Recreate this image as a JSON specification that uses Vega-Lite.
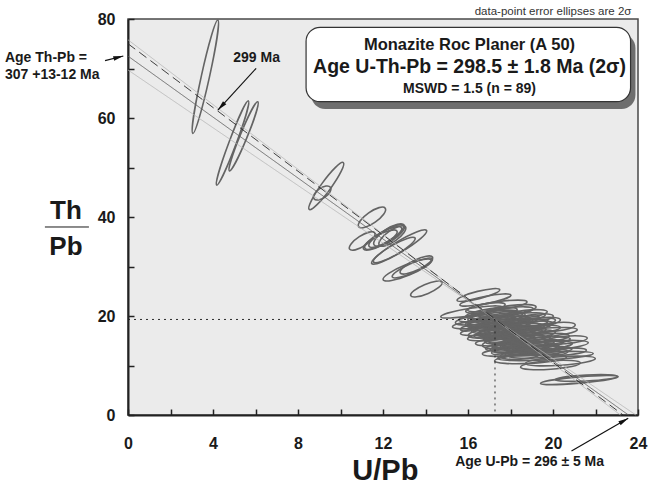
{
  "$schema": "https://vega.github.io/schema/vega-lite/v6.json",
  "width": 510,
  "height": 396,
  "autosize": {"type": "none"},
  "padding": {"left": 128, "top": 19, "right": 13, "bottom": 74},
  "background": "white",
  "config": {
    "font": "Liberation Sans",
    "view": {"fill": "#ebebeb", "stroke": "#4a4a4a", "strokeWidth": 1.5},
    "axis": {
      "grid": false,
      "domainColor": "#222222",
      "domainWidth": 2,
      "tickColor": "#222222",
      "tickWidth": 1.5,
      "tickSize": -6,
      "labelFont": "Liberation Sans",
      "labelFontSize": 16,
      "labelFontWeight": "bold",
      "labelColor": "#1a1a1a",
      "labelFlush": false,
      "labelOverlap": false
    }
  },
  "datasets": {
    "ellipses": [
      {"u": 3.64, "th": 68.34, "err": 58, "tilt": -77.6, "ecc": "e07"},
      {"u": 4.92, "th": 54.95, "err": 45, "tilt": -69.4, "ecc": "e08"},
      {"u": 5.44, "th": 56.30, "err": 37.4, "tilt": -67.7, "ecc": "e09"},
      {"u": 9.33, "th": 46.26, "err": 29, "tilt": -54, "ecc": "e17"},
      {"u": 9.14, "th": 44.85, "err": 10, "tilt": -35, "ecc": "e50"},
      {"u": 11.48, "th": 39.90, "err": 16.2, "tilt": -35, "ecc": "e35"},
      {"u": 12.01, "th": 35.76, "err": 21, "tilt": -29, "ecc": "e28"},
      {"u": 12.15, "th": 36.16, "err": 20, "tilt": -31, "ecc": "e28"},
      {"u": 12.29, "th": 36.36, "err": 18, "tilt": -33, "ecc": "e35"},
      {"u": 11.87, "th": 35.35, "err": 19, "tilt": -28, "ecc": "e28"},
      {"u": 12.44, "th": 36.16, "err": 16, "tilt": -35, "ecc": "e35"},
      {"u": 11.02, "th": 35.15, "err": 15, "tilt": -33, "ecc": "e35"},
      {"u": 12.76, "th": 33.94, "err": 32, "tilt": -31, "ecc": "e17"},
      {"u": 12.53, "th": 33.33, "err": 24, "tilt": -30, "ecc": "e21"},
      {"u": 13.14, "th": 29.29, "err": 26, "tilt": -22, "ecc": "e21"},
      {"u": 13.57, "th": 30.30, "err": 18, "tilt": -26, "ecc": "e28"},
      {"u": 13.38, "th": 29.70, "err": 22, "tilt": -24, "ecc": "e21"},
      {"u": 14.04, "th": 25.45, "err": 17, "tilt": -23, "ecc": "e28"},
      {"u": 16.49, "th": 24.24, "err": 22, "tilt": -14, "ecc": "e17"},
      {"u": 16.82, "th": 23.23, "err": 26, "tilt": -11, "ecc": "e14"},
      {"u": 16.16, "th": 20.81, "err": 31, "tilt": -9, "ecc": "e12"},
      {"u": 17.38, "th": 22.02, "err": 30, "tilt": -8, "ecc": "e14"},
      {"u": 17.76, "th": 20.81, "err": 28, "tilt": -7, "ecc": "e14"},
      {"u": 16.96, "th": 20.00, "err": 30, "tilt": -8, "ecc": "e14"},
      {"u": 18.23, "th": 19.60, "err": 30, "tilt": -6, "ecc": "e14"},
      {"u": 17.43, "th": 18.79, "err": 32, "tilt": -7, "ecc": "e14"},
      {"u": 16.58, "th": 18.38, "err": 28, "tilt": -6, "ecc": "e14"},
      {"u": 18.46, "th": 18.38, "err": 28, "tilt": -6, "ecc": "e14"},
      {"u": 17.76, "th": 17.58, "err": 34, "tilt": -6, "ecc": "e12"},
      {"u": 17.05, "th": 17.17, "err": 30, "tilt": -7, "ecc": "e14"},
      {"u": 18.94, "th": 17.17, "err": 30, "tilt": -5, "ecc": "e14"},
      {"u": 18.09, "th": 16.36, "err": 30, "tilt": -6, "ecc": "e14"},
      {"u": 17.29, "th": 15.96, "err": 28, "tilt": -6, "ecc": "e14"},
      {"u": 19.41, "th": 16.57, "err": 37, "tilt": -5, "ecc": "e12"},
      {"u": 18.46, "th": 15.56, "err": 32, "tilt": -6, "ecc": "e14"},
      {"u": 17.76, "th": 14.95, "err": 30, "tilt": -5, "ecc": "e14"},
      {"u": 19.17, "th": 14.75, "err": 35, "tilt": -5, "ecc": "e12"},
      {"u": 18.23, "th": 13.94, "err": 30, "tilt": -5, "ecc": "e14"},
      {"u": 19.88, "th": 13.94, "err": 38, "tilt": -5, "ecc": "e12"},
      {"u": 18.70, "th": 13.13, "err": 34, "tilt": -5, "ecc": "e12"},
      {"u": 17.99, "th": 12.73, "err": 28, "tilt": -4, "ecc": "e14"},
      {"u": 19.64, "th": 11.92, "err": 48, "tilt": -3, "ecc": "e08"},
      {"u": 18.94, "th": 11.31, "err": 36, "tilt": -3, "ecc": "e12"},
      {"u": 20.35, "th": 10.91, "err": 35, "tilt": -4, "ecc": "e12"},
      {"u": 19.88, "th": 10.10, "err": 30, "tilt": -4, "ecc": "e14"},
      {"u": 17.52, "th": 19.60, "err": 25, "tilt": -8, "ecc": "e17"},
      {"u": 17.99, "th": 21.21, "err": 26, "tilt": -7, "ecc": "e17"},
      {"u": 16.82, "th": 21.62, "err": 20, "tilt": -10, "ecc": "e21"},
      {"u": 18.70, "th": 20.40, "err": 22, "tilt": -6, "ecc": "e17"},
      {"u": 16.34, "th": 19.19, "err": 20, "tilt": -8, "ecc": "e21"},
      {"u": 17.29, "th": 17.98, "err": 22, "tilt": -6, "ecc": "e17"},
      {"u": 19.41, "th": 18.79, "err": 20, "tilt": -6, "ecc": "e21"},
      {"u": 18.84, "th": 17.98, "err": 25, "tilt": -6, "ecc": "e17"},
      {"u": 17.62, "th": 16.57, "err": 20, "tilt": -6, "ecc": "e21"},
      {"u": 18.37, "th": 17.17, "err": 22, "tilt": -6, "ecc": "e17"},
      {"u": 19.64, "th": 15.56, "err": 24, "tilt": -5, "ecc": "e17"},
      {"u": 18.84, "th": 14.34, "err": 26, "tilt": -5, "ecc": "e14"},
      {"u": 17.99, "th": 13.54, "err": 20, "tilt": -5, "ecc": "e21"},
      {"u": 19.41, "th": 13.13, "err": 22, "tilt": -5, "ecc": "e17"},
      {"u": 20.35, "th": 12.73, "err": 26, "tilt": -4, "ecc": "e14"},
      {"u": 17.43, "th": 14.34, "err": 16, "tilt": -5, "ecc": "e28"},
      {"u": 16.67, "th": 16.36, "err": 14, "tilt": -6, "ecc": "e28"},
      {"u": 16.11, "th": 17.58, "err": 10, "tilt": -8, "ecc": "e28"},
      {"u": 18.46, "th": 12.12, "err": 20, "tilt": -4, "ecc": "e21"},
      {"u": 20.58, "th": 15.15, "err": 22, "tilt": -5, "ecc": "e17"},
      {"u": 20.11, "th": 17.78, "err": 20, "tilt": -6, "ecc": "e21"},
      {"u": 19.17, "th": 19.60, "err": 18, "tilt": -6, "ecc": "e21"},
      {"u": 17.10, "th": 19.20, "err": 24, "tilt": -7, "ecc": "e17"},
      {"u": 17.85, "th": 18.40, "err": 26, "tilt": -6, "ecc": "e17"},
      {"u": 18.55, "th": 16.80, "err": 24, "tilt": -6, "ecc": "e17"},
      {"u": 17.95, "th": 15.70, "err": 26, "tilt": -5, "ecc": "e17"},
      {"u": 18.75, "th": 15.10, "err": 24, "tilt": -5, "ecc": "e17"},
      {"u": 18.15, "th": 14.40, "err": 22, "tilt": -5, "ecc": "e17"},
      {"u": 19.05, "th": 13.60, "err": 26, "tilt": -5, "ecc": "e17"},
      {"u": 17.60, "th": 17.00, "err": 24, "tilt": -6, "ecc": "e17"},
      {"u": 16.90, "th": 18.80, "err": 22, "tilt": -7, "ecc": "e17"},
      {"u": 19.30, "th": 12.40, "err": 30, "tilt": -4, "ecc": "e14"},
      {"u": 17.30, "th": 19.90, "err": 28, "tilt": -7, "ecc": "e14"},
      {"u": 18.00, "th": 19.00, "err": 30, "tilt": -6, "ecc": "e14"},
      {"u": 17.60, "th": 18.10, "err": 30, "tilt": -6, "ecc": "e14"},
      {"u": 18.30, "th": 17.50, "err": 28, "tilt": -6, "ecc": "e14"},
      {"u": 17.90, "th": 16.90, "err": 32, "tilt": -6, "ecc": "e14"},
      {"u": 18.70, "th": 16.20, "err": 30, "tilt": -5, "ecc": "e14"},
      {"u": 18.20, "th": 15.30, "err": 30, "tilt": -5, "ecc": "e14"},
      {"u": 19.00, "th": 14.20, "err": 32, "tilt": -5, "ecc": "e14"},
      {"u": 18.50, "th": 13.40, "err": 28, "tilt": -5, "ecc": "e14"},
      {"u": 19.30, "th": 12.90, "err": 34, "tilt": -4, "ecc": "e12"},
      {"u": 17.10, "th": 20.60, "err": 26, "tilt": -8, "ecc": "e17"},
      {"u": 18.90, "th": 18.60, "err": 26, "tilt": -6, "ecc": "e17"},
      {"u": 17.40, "th": 16.50, "err": 24, "tilt": -6, "ecc": "e17"},
      {"u": 19.60, "th": 14.00, "err": 28, "tilt": -5, "ecc": "e14"},
      {"u": 21.24, "th": 7.07, "err": 39, "tilt": -5, "ecc": "e08"},
      {"u": 21.57, "th": 7.47, "err": 31, "tilt": -3, "ecc": "e09"}
    ],
    "lines": [
      {"kind": "env", "x1": 0, "y1": 75.8, "x2": 23.17, "y2": 0},
      {"kind": "env", "x1": 0, "y1": 69.7, "x2": 23.9, "y2": 0},
      {"kind": "reg", "x1": 0, "y1": 72.5, "x2": 23.55, "y2": 0},
      {"kind": "iso", "x1": 0, "y1": 75.0, "x2": 23.3, "y2": 0},
      {"kind": "guide", "x1": 0, "y1": 19.3, "x2": 17.27, "y2": 19.3},
      {"kind": "guide", "x1": 17.27, "y1": 19.3, "x2": 17.27, "y2": 0},
      {"kind": "frac", "x1": -3.91, "y1": 37.98, "x2": -1.84, "y2": 37.98}
    ],
    "panel": [
      {"part": "shadow", "x1": 8.62, "x2": 23.88, "y1": 76.97, "y2": 61.82},
      {"part": "box", "x1": 8.38, "x2": 23.65, "y1": 78.32, "y2": 63.29}
    ],
    "arrows": [
      {"x1": -1.08, "y1": 71.58, "x2": -0.22, "y2": 72.53, "dir": -14.4},
      {"x1": 6.03, "y1": 70.04, "x2": 4.23, "y2": 61.6, "dir": 132.6},
      {"x1": 20.87, "y1": -7.27, "x2": 23.54, "y2": -0.67, "dir": -30}
    ],
    "labels": [
      {"role": "thpb", "x": -5.79, "y": 72.12, "txt": "Age Th-Pb ="},
      {"role": "thpb", "x": -5.79, "y": 68.69, "txt": "307 +13-12 Ma"},
      {"role": "annot", "x": 6.05, "y": 72.2, "txt": "299 Ma"},
      {"role": "title", "x": 16.07, "y": 74.75, "txt": "Monazite Roc Planer (A 50)"},
      {"role": "age", "x": 16.07, "y": 70.3, "txt": "Age U-Th-Pb = 298.5 ± 1.8 Ma (2σ)"},
      {"role": "annot", "x": 16.07, "y": 65.86, "txt": "MSWD = 1.5 (n = 89)"},
      {"role": "annot", "x": 18.9, "y": -9.43, "txt": "Age U-Pb = 296 ± 5 Ma"},
      {"role": "frac", "x": -2.92, "y": 41.21, "txt": "Th"},
      {"role": "frac", "x": -2.92, "y": 33.94, "txt": "Pb"},
      {"role": "axis", "x": 12.11, "y": -11.4, "txt": "U/Pb"},
      {"role": "note", "x": 23.69, "y": 81.41, "txt": "data-point error ellipses are 2σ"}
    ]
  },
  "layer": [
    {
      "data": {"name": "ellipses"},
      "mark": {"type": "point", "filled": false, "stroke": "#646464", "strokeWidth": 1.6, "opacity": 1},
      "encoding": {
        "x": {"field": "u", "type": "quantitative", "scale": {"domain": [0, 24], "nice": false, "zero": false},
              "axis": {"values": [0, 2, 4, 6, 8, 10, 12, 14, 16, 18, 20, 22, 24], "labelExpr": "datum.value % 4 === 0 ? datum.label : ''", "title": null, "labelPadding": 26}},
        "y": {"field": "th", "type": "quantitative", "scale": {"domain": [0, 80], "nice": false, "zero": false},
              "axis": {"values": [0, 10, 20, 30, 40, 50, 60, 70, 80], "labelExpr": "datum.value % 20 === 0 ? datum.label : ''", "title": null, "labelPadding": 19}},
        "size": {"field": "err", "type": "quantitative", "scale": {"type": "pow", "exponent": 2, "domain": [0, 10], "range": [0, 400]}, "legend": null},
        "angle": {"field": "tilt", "type": "quantitative", "scale": {"domain": [-180, 180], "range": [-180, 180]}, "legend": null},
        "shape": {"field": "ecc", "type": "nominal", "legend": null, "scale": {
          "domain": ["e07", "e08", "e09", "e12", "e14", "e17", "e21", "e28", "e35", "e50"],
          "range": [
            "M1 0C1 0.0387 0.5523 0.07 0 0.07C-0.5523 0.07 -1 0.0387 -1 0C-1 -0.0387 -0.5523 -0.07 0 -0.07C0.5523 -0.07 1 -0.0387 1 0Z",
            "M1 0C1 0.0442 0.5523 0.08 0 0.08C-0.5523 0.08 -1 0.0442 -1 0C-1 -0.0442 -0.5523 -0.08 0 -0.08C0.5523 -0.08 1 -0.0442 1 0Z",
            "M1 0C1 0.0525 0.5523 0.095 0 0.095C-0.5523 0.095 -1 0.0525 -1 0C-1 -0.0525 -0.5523 -0.095 0 -0.095C0.5523 -0.095 1 -0.0525 1 0Z",
            "M1 0C1 0.0663 0.5523 0.12 0 0.12C-0.5523 0.12 -1 0.0663 -1 0C-1 -0.0663 -0.5523 -0.12 0 -0.12C0.5523 -0.12 1 -0.0663 1 0Z",
            "M1 0C1 0.0773 0.5523 0.14 0 0.14C-0.5523 0.14 -1 0.0773 -1 0C-1 -0.0773 -0.5523 -0.14 0 -0.14C0.5523 -0.14 1 -0.0773 1 0Z",
            "M1 0C1 0.0939 0.5523 0.17 0 0.17C-0.5523 0.17 -1 0.0939 -1 0C-1 -0.0939 -0.5523 -0.17 0 -0.17C0.5523 -0.17 1 -0.0939 1 0Z",
            "M1 0C1 0.116 0.5523 0.21 0 0.21C-0.5523 0.21 -1 0.116 -1 0C-1 -0.116 -0.5523 -0.21 0 -0.21C0.5523 -0.21 1 -0.116 1 0Z",
            "M1 0C1 0.1546 0.5523 0.28 0 0.28C-0.5523 0.28 -1 0.1546 -1 0C-1 -0.1546 -0.5523 -0.28 0 -0.28C0.5523 -0.28 1 -0.1546 1 0Z",
            "M1 0C1 0.1933 0.5523 0.35 0 0.35C-0.5523 0.35 -1 0.1933 -1 0C-1 -0.1933 -0.5523 -0.35 0 -0.35C0.5523 -0.35 1 -0.1933 1 0Z",
            "M1 0C1 0.2762 0.5523 0.5 0 0.5C-0.5523 0.5 -1 0.2762 -1 0C-1 -0.2762 -0.5523 -0.5 0 -0.5C0.5523 -0.5 1 -0.2762 1 0Z"
          ]}}
      }
    },
    {
      "data": {"name": "lines"},
      "mark": {"type": "rule"},
      "encoding": {
        "x": {"field": "x1", "type": "quantitative", "scale": {"domain": [0, 24], "nice": false, "zero": false}, "axis": {"title": null}},
        "x2": {"field": "x2"},
        "y": {"field": "y1", "type": "quantitative", "scale": {"domain": [0, 80], "nice": false, "zero": false}, "axis": {"title": null}},
        "y2": {"field": "y2"},
        "color": {"field": "kind", "type": "nominal", "legend": null, "scale": {"domain": ["env", "reg", "iso", "guide", "frac"], "range": ["#b4b4b4", "#5a5a5a", "#2a2a2a", "#222222", "#111111"]}},
        "strokeDash": {"field": "kind", "type": "nominal", "legend": null, "scale": {"domain": ["env", "reg", "iso", "guide", "frac"], "range": [[1, 0], [1, 0], [9, 5], [2, 4], [1, 0]]}},
        "strokeWidth": {"field": "kind", "type": "nominal", "legend": null, "scale": {"domain": ["env", "reg", "iso", "guide", "frac"], "range": [0.8, 1, 1.7, 1.5, 2.5]}}
      }
    },
    {
      "data": {"name": "panel"},
      "transform": [{"filter": "datum.part === 'shadow'"}],
      "mark": {"type": "rect", "cornerRadius": 14, "fill": "#6e6e6e"},
      "encoding": {
        "x": {"field": "x1", "type": "quantitative", "scale": {"domain": [0, 24], "nice": false, "zero": false}, "axis": {"title": null}},
        "x2": {"field": "x2"},
        "y": {"field": "y1", "type": "quantitative", "scale": {"domain": [0, 80], "nice": false, "zero": false}, "axis": {"title": null}},
        "y2": {"field": "y2"}
      }
    },
    {
      "data": {"name": "panel"},
      "transform": [{"filter": "datum.part === 'box'"}],
      "mark": {"type": "rect", "cornerRadius": 14, "fill": "#ffffff", "stroke": "#333333", "strokeWidth": 1.2},
      "encoding": {
        "x": {"field": "x1", "type": "quantitative", "scale": {"domain": [0, 24], "nice": false, "zero": false}, "axis": {"title": null}},
        "x2": {"field": "x2"},
        "y": {"field": "y1", "type": "quantitative", "scale": {"domain": [0, 80], "nice": false, "zero": false}, "axis": {"title": null}},
        "y2": {"field": "y2"}
      }
    },
    {
      "data": {"name": "arrows"},
      "mark": {"type": "rule", "color": "#111111", "strokeWidth": 1.2},
      "encoding": {
        "x": {"field": "x1", "type": "quantitative", "scale": {"domain": [0, 24], "nice": false, "zero": false}, "axis": {"title": null}},
        "x2": {"field": "x2"},
        "y": {"field": "y1", "type": "quantitative", "scale": {"domain": [0, 80], "nice": false, "zero": false}, "axis": {"title": null}},
        "y2": {"field": "y2"}
      }
    },
    {
      "data": {"name": "arrows"},
      "mark": {"type": "point", "filled": true, "fill": "#111111", "strokeWidth": 0, "opacity": 1, "size": 70, "shape": "M0 0L-2.4 -0.55L-2.4 0.55Z"},
      "encoding": {
        "x": {"field": "x2", "type": "quantitative", "scale": {"domain": [0, 24], "nice": false, "zero": false}, "axis": {"title": null}},
        "y": {"field": "y2", "type": "quantitative", "scale": {"domain": [0, 80], "nice": false, "zero": false}, "axis": {"title": null}},
        "angle": {"field": "dir", "type": "quantitative", "scale": {"domain": [-180, 180], "range": [-180, 180]}, "legend": null}
      }
    },
    {
      "data": {"name": "labels"},
      "transform": [{"filter": "datum.role === 'thpb'"}],
      "mark": {"type": "text", "align": "left", "baseline": "middle", "fontWeight": "bold", "fontSize": 14, "color": "#1a1a1a"},
      "encoding": {
        "x": {"field": "x", "type": "quantitative", "scale": {"domain": [0, 24], "nice": false, "zero": false}, "axis": {"title": null}},
        "y": {"field": "y", "type": "quantitative", "scale": {"domain": [0, 80], "nice": false, "zero": false}, "axis": {"title": null}},
        "text": {"field": "txt"}
      }
    },
    {
      "data": {"name": "labels"},
      "transform": [{"filter": "datum.role === 'annot'"}],
      "mark": {"type": "text", "align": "center", "baseline": "middle", "fontWeight": "bold", "fontSize": 14, "color": "#1a1a1a"},
      "encoding": {
        "x": {"field": "x", "type": "quantitative", "scale": {"domain": [0, 24], "nice": false, "zero": false}, "axis": {"title": null}},
        "y": {"field": "y", "type": "quantitative", "scale": {"domain": [0, 80], "nice": false, "zero": false}, "axis": {"title": null}},
        "text": {"field": "txt"}
      }
    },
    {
      "data": {"name": "labels"},
      "transform": [{"filter": "datum.role === 'title'"}],
      "mark": {"type": "text", "align": "center", "baseline": "middle", "fontWeight": "bold", "fontSize": 16.5, "color": "#1a1a1a"},
      "encoding": {
        "x": {"field": "x", "type": "quantitative", "scale": {"domain": [0, 24], "nice": false, "zero": false}, "axis": {"title": null}},
        "y": {"field": "y", "type": "quantitative", "scale": {"domain": [0, 80], "nice": false, "zero": false}, "axis": {"title": null}},
        "text": {"field": "txt"}
      }
    },
    {
      "data": {"name": "labels"},
      "transform": [{"filter": "datum.role === 'age'"}],
      "mark": {"type": "text", "align": "center", "baseline": "middle", "fontWeight": "bold", "fontSize": 19.5, "color": "#1a1a1a"},
      "encoding": {
        "x": {"field": "x", "type": "quantitative", "scale": {"domain": [0, 24], "nice": false, "zero": false}, "axis": {"title": null}},
        "y": {"field": "y", "type": "quantitative", "scale": {"domain": [0, 80], "nice": false, "zero": false}, "axis": {"title": null}},
        "text": {"field": "txt"}
      }
    },
    {
      "data": {"name": "labels"},
      "transform": [{"filter": "datum.role === 'frac'"}],
      "mark": {"type": "text", "align": "center", "baseline": "middle", "fontWeight": "bold", "fontSize": 26, "color": "#1a1a1a"},
      "encoding": {
        "x": {"field": "x", "type": "quantitative", "scale": {"domain": [0, 24], "nice": false, "zero": false}, "axis": {"title": null}},
        "y": {"field": "y", "type": "quantitative", "scale": {"domain": [0, 80], "nice": false, "zero": false}, "axis": {"title": null}},
        "text": {"field": "txt"}
      }
    },
    {
      "data": {"name": "labels"},
      "transform": [{"filter": "datum.role === 'axis'"}],
      "mark": {"type": "text", "align": "center", "baseline": "middle", "fontWeight": "bold", "fontSize": 29, "color": "#1a1a1a"},
      "encoding": {
        "x": {"field": "x", "type": "quantitative", "scale": {"domain": [0, 24], "nice": false, "zero": false}, "axis": {"title": null}},
        "y": {"field": "y", "type": "quantitative", "scale": {"domain": [0, 80], "nice": false, "zero": false}, "axis": {"title": null}},
        "text": {"field": "txt"}
      }
    },
    {
      "data": {"name": "labels"},
      "transform": [{"filter": "datum.role === 'note'"}],
      "mark": {"type": "text", "align": "right", "baseline": "middle", "fontSize": 11.5, "color": "#333333"},
      "encoding": {
        "x": {"field": "x", "type": "quantitative", "scale": {"domain": [0, 24], "nice": false, "zero": false}, "axis": {"title": null}},
        "y": {"field": "y", "type": "quantitative", "scale": {"domain": [0, 80], "nice": false, "zero": false}, "axis": {"title": null}},
        "text": {"field": "txt"}
      }
    }
  ]
}
